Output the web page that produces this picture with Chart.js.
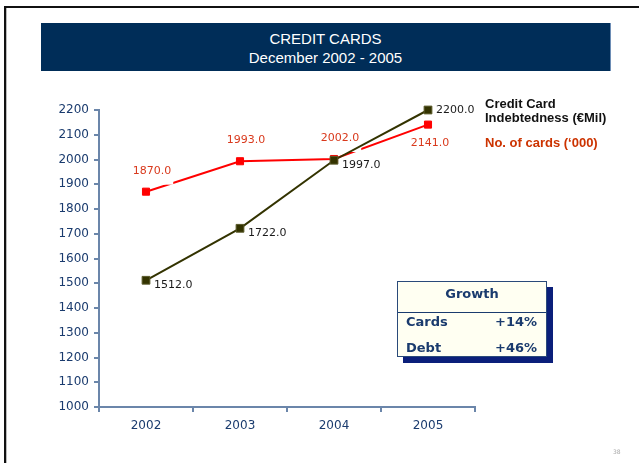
<!DOCTYPE html>
<html>
<head>
<meta charset="utf-8">
<script src="https://cdn.jsdelivr.net/npm/chart.js@4.4.1/dist/chart.umd.min.js"></script>
<style>
  html, body { margin: 0; padding: 0; background: #fff; }
  #slide { position: relative; width: 639px; height: 463px; overflow: hidden; background: #fff; }
  #slide canvas { position: absolute; left: 0; top: 0; }
  .frame-top { position: absolute; left: 4px; top: 6px; width: 640px; height: 2px; background: #111; }
  .frame-left { position: absolute; left: 4px; top: 6px; width: 2px; height: 470px; background: #111; }
  .frame-left2 { position: absolute; left: 6px; top: 8px; width: 1px; height: 470px; background: #bbb; }
  .title { position: absolute; left: 41px; top: 23px; width: 570px; height: 48px; background: #002d58;
    border-right: 1px solid #6d8db5; color: #fff; text-align: center;
    font-family: "Liberation Sans Narrow", "Liberation Sans", sans-serif; font-stretch: condensed;
    font-size: 15px; line-height: 19px; padding-top: 6px; box-sizing: border-box; }
  .legend { position: absolute; left: 485px; font-family: "Liberation Sans", Arial, sans-serif;
    font-weight: bold; font-size: 13px; line-height: 14px; }
  .growth-shadow { position: absolute; left: 403px; top: 287px; width: 150px; height: 76px; background: #0b1f7a; }
  .growth { position: absolute; left: 397px; top: 281px; width: 150px; height: 76px; background: #fffff2;
    border: 1px solid #2a4a7a; box-sizing: border-box; color: #1a3b6e;
    font-family: "DejaVu Sans", Verdana, sans-serif; font-weight: bold; font-size: 13px; }
  .growth .head { position: absolute; left: 0; right: 0; top: 3px; text-align: center; line-height: 18px; }
  .growth .rule { position: absolute; left: 0; right: 0; top: 30px; height: 1px; background: #1a3b6e; }
  .growth .row { position: absolute; left: 8px; right: 9px; line-height: 16px; }
  .growth .row span { float: right; }
  .pageno { position: absolute; left: 613px; top: 448px; font-family: "DejaVu Sans", sans-serif; font-size: 6px; color: #aaa; }
</style>
</head>
<body>
<div id="slide">
  <canvas id="lineChart" width="639" height="463"></canvas>
  <div class="frame-top"></div>
  <div class="frame-left"></div>
  <div class="frame-left2"></div>
  <div class="title">CREDIT CARDS<br>December 2002 - 2005</div>
  <div class="legend" style="top:97px; color:#111;">Credit Card<br>Indebtedness (€Mil)</div>
  <div class="legend" style="top:136px; color:#cc3300;">No. of cards (‘000)</div>
  <div class="growth-shadow"></div>
  <div class="growth">
    <div class="head">Growth</div>
    <div class="rule"></div>
    <div class="row" style="top:32px;">Cards<span>+14%</span></div>
    <div class="row" style="top:58px;">Debt<span>+46%</span></div>
  </div>
  <div class="pageno">38</div>
</div>
<script>
const years = ['2002', '2003', '2004', '2005'];
const debtValues = [1512, 1722, 1997, 2200];   // indebtedness, € millions
const cardValues = [1870, 1993, 2002, 2141];   // number of cards, thousands
const yMin = 1000;
const yMax = 2200;
const yStep = 100;

const tickColor = '#1a3b6e';
const axisColor = '#6b86aa';

// value labels: debt to the right of its points, cards above (last one below)
const valueLabels = {
  id: 'valueLabels',
  afterDatasetDraw(chart, args) {
    const ctx = chart.ctx;
    const ds = chart.data.datasets[args.index];
    const meta = args.meta;
    ctx.save();
    ctx.font = '11px "DejaVu Sans", Verdana, sans-serif';
    ctx.textBaseline = 'middle';
    meta.data.forEach((pt, i) => {
      const text = ds.data[i].toFixed(1);
      if (ds.label === 'debt') {
        ctx.textAlign = 'left';
        ctx.fillStyle = '#1a1a1a';
        const dy = i === ds.data.length - 1 ? 0 : 5;
        ctx.fillText(text, pt.x + 8, pt.y + dy);
      } else {
        const below = i === ds.data.length - 1;
        const cx = pt.x + (below ? 2 : 6);
        const cy = below ? pt.y + 19 : pt.y - 21;
        const w = ctx.measureText(text).width;
        ctx.fillStyle = '#ffffff';
        if (!below) ctx.fillRect(cx - w / 2 - 2, cy - 8, w + 4, 22);
        ctx.textAlign = 'center';
        ctx.fillStyle = '#d9391c';
        ctx.fillText(text, cx, cy);
      }
    });
    ctx.restore();
  }
};

const ctx = document.getElementById('lineChart').getContext('2d');

const lineChart = new Chart(ctx, {
  type: 'line',
  data: {
    labels: years,
    datasets: [
      {
        label: 'debt',
        data: debtValues,
        borderColor: '#333300',
        backgroundColor: '#333300',
        pointBorderColor: '#5a5a2a',
        borderWidth: 2,
        pointStyle: 'rect',
        pointRadius: 5.5,
        pointBorderWidth: 1,
        fill: false,
        clip: false,
        tension: 0
      },
      {
        label: 'cards',
        data: cardValues,
        borderColor: '#ff0000',
        backgroundColor: '#ff0000',
        borderWidth: 2,
        pointStyle: 'rect',
        pointRadius: 5,
        pointBorderWidth: 1,
        fill: false,
        clip: false,
        tension: 0
      }
    ]
  },
  options: {
    responsive: false,
    animation: false,
    layout: { padding: { left: 39, top: 110, right: 164, bottom: 16 } },
    scales: {
      x: {
        offset: true,
        grid: { offset: true, drawOnChartArea: false, tickLength: 5, color: axisColor, lineWidth: 2 },
        border: { color: axisColor, width: 2 },
        ticks: { color: tickColor, padding: 7, font: { family: '"DejaVu Sans", Verdana, sans-serif', size: 12 } },
        afterFit: (scale) => { scale.height = 40; }
      },
      y: {
        min: yMin,
        max: yMax,
        grid: { drawOnChartArea: false, tickLength: 5, color: axisColor, lineWidth: 2 },
        border: { color: axisColor, width: 2 },
        ticks: {
          stepSize: yStep,
          color: tickColor,
          padding: 5,
          font: { family: '"DejaVu Sans", Verdana, sans-serif', size: 12 },
          callback: (v) => String(v)
        },
        afterFit: (scale) => { scale.width = 60; }
      }
    },
    plugins: {
      legend: { display: false },
      tooltip: { enabled: false }
    }
  },
  plugins: [valueLabels]
});
</script>
</body>
</html>
